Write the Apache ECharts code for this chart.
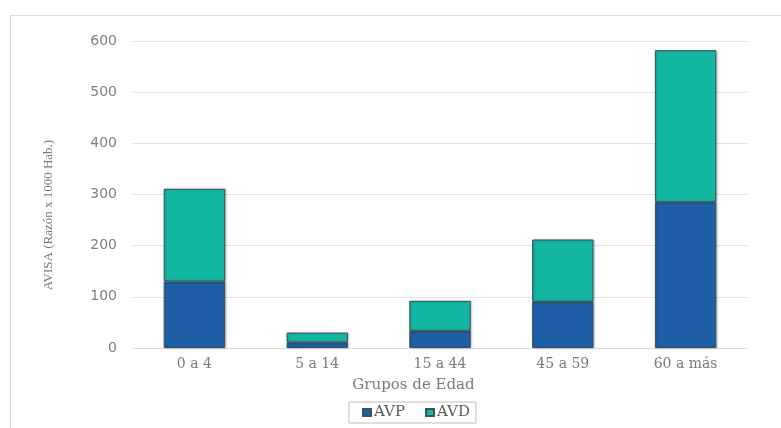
<!DOCTYPE html>
<html>
<head>
<meta charset="utf-8">
<script src="https://cdn.jsdelivr.net/npm/echarts@6/dist/echarts.min.js"></script>
<style>
  html, body { margin: 0; padding: 0; background: #fff; }
  #chart { width: 781px; height: 428px; }
</style>
</head>
<body>
<div id="chart"></div>
<script>
// Age groups and stacked AVISA components (rate per 1000 inhabitants)
const categories = ['0 a 4', '5 a 14', '15 a 44', '45 a 59', '60 a más'];
const avp = [130, 11, 33, 90, 285];
const avd = [181, 19, 59, 122, 297];
const yTicks = { min: 0, max: 600, interval: 100 };

const chart = echarts.init(document.getElementById('chart'));

const serif = 'DejaVu Serif';
const barStyle = (color) => ({
  color: color,
  borderColor: '#3c5360',
  borderWidth: 1,
  shadowColor: 'rgba(0,0,0,0.25)',
  shadowBlur: 2,
  shadowOffsetX: 1,
  shadowOffsetY: 0
});

chart.setOption({
  animation: false,
  backgroundColor: '#ffffff',
  grid: { left: 133, right: 34, top: 41, bottom: 80 },
  xAxis: {
    type: 'category',
    data: categories,
    name: 'Grupos de Edad',
    nameLocation: 'middle',
    nameGap: 30,
    nameTextStyle: { fontFamily: serif, fontSize: 15, color: '#7a7a7a', padding: [0, 53, 0, 0] },
    axisLine: { lineStyle: { color: '#d9d9d9' } },
    axisTick: { show: false },
    axisLabel: { fontFamily: serif, fontSize: 14, color: '#7a7a7a', margin: 9 }
  },
  yAxis: {
    type: 'value',
    min: yTicks.min,
    max: yTicks.max,
    interval: yTicks.interval,
    axisLine: { show: false },
    axisTick: { show: false },
    axisLabel: { fontFamily: 'DejaVu Sans', fontSize: 14, color: '#808080', margin: 16 },
    splitLine: { lineStyle: { color: '#e3e3e3', width: 1 } }
  },
  legend: {
    left: 349,
    top: 402,
    orient: 'horizontal',
    data: ['AVP', 'AVD'],
    borderColor: '#bdbdbd',
    borderWidth: 1,
    padding: [3, 6, 3, 13],
    itemWidth: 8,
    itemHeight: 7,
    itemGap: 20,
    icon: 'rect',
    textStyle: { fontFamily: serif, fontSize: 15, color: '#595959', padding: [0, 0, 0, -2] }
  },
  graphic: [
    { type: 'line', shape: { x1: 10, y1: 15.5, x2: 781, y2: 15.5 }, style: { stroke: '#dcdcdc', lineWidth: 1 } },
    { type: 'line', shape: { x1: 10.5, y1: 15, x2: 10.5, y2: 428 }, style: { stroke: '#dcdcdc', lineWidth: 1 } },
    {
      type: 'text',
      x: 49,
      y: 215,
      rotation: Math.PI / 2,
      style: {
        text: 'AVISA (Razón x 1000 Hab.)',
        fontFamily: 'Liberation Serif',
        fontSize: 13,
        fill: '#7a7a7a',
        align: 'center',
        verticalAlign: 'middle'
      }
    }
  ],
  series: [
    {
      name: 'AVP',
      type: 'bar',
      stack: 'avisa',
      barWidth: '50%',
      data: avp,
      itemStyle: barStyle('#1e5fa8')
    },
    {
      name: 'AVD',
      type: 'bar',
      stack: 'avisa',
      barWidth: '50%',
      data: avd,
      itemStyle: barStyle('#13b7a1')
    }
  ]
});
</script>
</body>
</html>
